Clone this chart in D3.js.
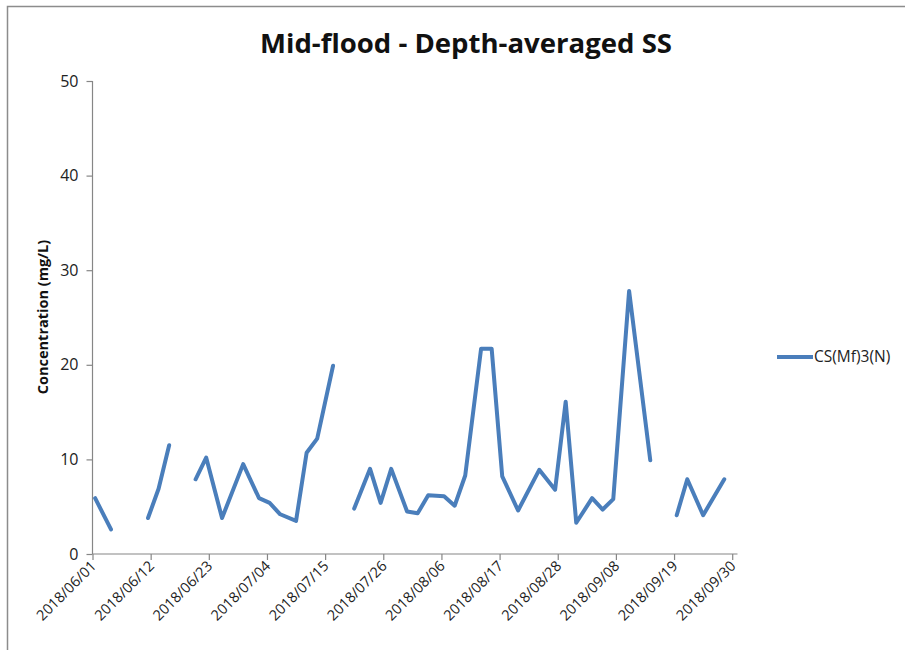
<!DOCTYPE html>
<html><head><meta charset="utf-8">
<script src="https://cdn.jsdelivr.net/npm/d3@7"></script>
<style>body{margin:0;background:#fff}svg{display:block}</style>
</head><body>
<svg id="c" width="905" height="650"></svg>
<script>
const title = "Mid-flood - Depth-averaged SS";
const yTitle = "Concentration (mg/L)";
const seriesName = "CS(Mf)3(N)";
const dates = ["2018/06/01","2018/06/04","2018/06/07","2018/06/11","2018/06/13","2018/06/15","2018/06/18","2018/06/20","2018/06/22","2018/06/25","2018/06/29","2018/07/02","2018/07/04","2018/07/06","2018/07/09","2018/07/11","2018/07/13","2018/07/16","2018/07/18","2018/07/20","2018/07/23","2018/07/25","2018/07/27","2018/07/30","2018/08/01","2018/08/03","2018/08/06","2018/08/08","2018/08/10","2018/08/13","2018/08/15","2018/08/17","2018/08/20","2018/08/24","2018/08/27","2018/08/29","2018/08/31","2018/09/03","2018/09/05","2018/09/07","2018/09/10","2018/09/14","2018/09/17","2018/09/19","2018/09/21","2018/09/24","2018/09/28"];
const values = [5.9,2.6,null,3.8,6.9,11.5,null,7.9,10.2,3.8,9.5,5.9,5.4,4.2,3.5,10.7,12.2,19.9,null,4.8,9.0,5.4,9.0,4.5,4.3,6.2,6.1,5.1,8.3,21.7,21.7,8.2,4.6,8.9,6.8,16.1,3.3,5.9,4.7,5.8,27.8,9.9,null,4.1,7.9,4.1,7.9];
const xTickLabels = ["2018/06/01","2018/06/12","2018/06/23","2018/07/04","2018/07/15","2018/07/26","2018/08/06","2018/08/17","2018/08/28","2018/09/08","2018/09/19","2018/09/30"];
const yTicks = [0,10,20,30,40,50];

const parse = d3.timeParse("%Y/%m/%d");
const svg = d3.select("#c");
const font = "'Open Sans', 'Liberation Sans', sans-serif";

// outer border
svg.append("rect").attr("x",7.5).attr("y",6.5).attr("width",1000).attr("height",1000)
  .attr("fill","none").attr("stroke","#8c8c8c").attr("stroke-width",1.5);

const x = d3.scaleTime().domain([parse("2018/06/01"), parse("2018/10/01")]).range([92.5, 737.5]);
const y = d3.scaleLinear().domain([0,50]).range([554, 81]);
const half = 12*3600*1000;

// y axis
const yAxis = svg.append("g").attr("transform","translate(92.5,0)")
  .call(d3.axisLeft(y).tickValues(yTicks).tickSize(6).tickPadding(8).tickFormat(d3.format("d")));
yAxis.select(".domain").attr("stroke","#868686").attr("stroke-width",1.2).attr("d","M0,81V554");
yAxis.selectAll(".tick line").attr("stroke","#868686").attr("stroke-width",1.2);
yAxis.selectAll("text").attr("font-family",font).attr("font-size",16).attr("fill","#222");

// x axis
const xAxis = svg.append("g").attr("transform","translate(0,554)")
  .call(d3.axisBottom(x).tickValues(xTickLabels.map(parse)).tickSize(6).tickFormat(d3.timeFormat("%Y/%m/%d")));
xAxis.select(".domain").attr("stroke","#868686").attr("stroke-width",1.2).attr("d","M92.5,0H737.5");
xAxis.selectAll(".tick line").attr("stroke","#868686").attr("stroke-width",1.2);
xAxis.selectAll("text").attr("font-family",font).attr("font-size",14.5).attr("fill","#222")
  .attr("text-anchor","end").attr("dy",0).attr("y",0)
  .attr("transform","translate(4,13) rotate(-45)");

// line
const data = dates.map((d,i)=>({date:new Date(+parse(d)+half), v:values[i]}));
const line = d3.line().defined(d=>d.v!=null).x(d=>x(d.date)).y(d=>y(d.v));
svg.append("path").datum(data).attr("d",line).attr("fill","none")
  .attr("stroke","#4A7EBB").attr("stroke-width",4).attr("stroke-linejoin","round").attr("stroke-linecap","round");

// title
svg.append("text").attr("x",466).attr("y",53).attr("text-anchor","middle")
  .attr("font-family",font).attr("font-weight","bold").attr("font-size",27).attr("fill","#111")
  .attr("textLength",412).attr("lengthAdjust","spacingAndGlyphs").text(title);

// y title
svg.append("text").attr("transform","translate(48,317) rotate(-90)").attr("text-anchor","middle")
  .attr("font-family",font).attr("font-weight","bold").attr("font-size",14.5).attr("fill","#111").text(yTitle);

// legend
svg.append("line").attr("x1",777).attr("x2",813).attr("y1",357).attr("y2",357)
  .attr("stroke","#4A7EBB").attr("stroke-width",4);
svg.append("text").attr("x",814).attr("y",362).attr("font-family",font).attr("font-size",15.5).attr("fill","#222").text(seriesName);
</script>
</body></html>
